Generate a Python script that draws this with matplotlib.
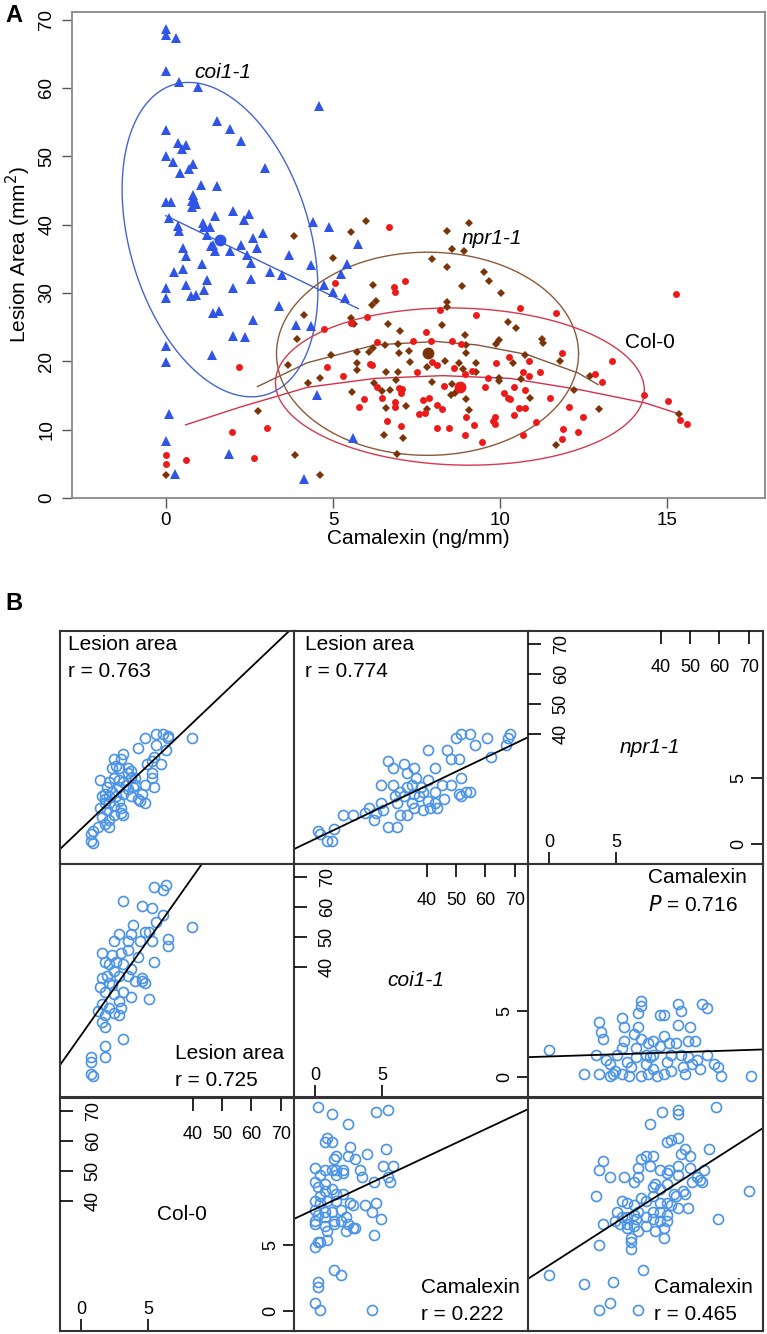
import numpy as np
import matplotlib.pyplot as plt
from matplotlib.transforms import blended_transform_factory

plt.rcParams['font.family'] = ['Liberation Sans', 'DejaVu Sans']

# ---------------- Panel A: camalexin (ng/mm) vs lesion area (mm2) ----------------
coi_x = [0.0, 0.0, 0.29, 0.0, 0.39, 0.95, 4.58, 0.0, 1.52, 1.92, 2.25, 0.35, 0.59, 0.49, 0.0,
         0.21, 0.82, 0.69, 0.42, 2.98, 1.06, 1.53, 0.82, 0.85, 0.77, 0.89, 0.79, 0.0, 0.14, 0.10,
         0.37, 0.39, 1.10, 1.15, 1.32, 1.48, 2.01, 2.33, 2.49, 1.22, 2.61, 2.90, 2.24, 1.34, 1.42,
         1.48, 1.92, 2.42, 2.72, 0.50, 0.59, 2.54, 1.09, 3.68, 0.51, 0.25, 3.11, 3.48, 2.54, 1.22,
         0.59, 0.74, 0.90, 1.15, 0.0, 0.0, 2.0, 4.33, 4.41, 4.88, 5.76, 5.43, 5.23, 4.74, 5.01,
         5.36, 3.38, 1.42, 1.59, 2.61, 3.88, 4.34, 2.37, 4.52, 5.59, 4.14, 2.02, 0.0, 0.0, 1.37,
         0.10, 0.0, 1.88, 0.26]
coi_y = [68.6, 67.8, 67.3, 62.4, 60.9, 60.2, 57.4, 53.9, 55.1, 54.0, 52.2, 51.9, 51.7, 51.1, 50.1,
         49.2, 48.9, 48.2, 47.6, 48.3, 45.8, 45.6, 44.4, 43.8, 43.5, 43.0, 42.6, 43.3, 43.3, 40.9,
         39.8, 39.0, 40.3, 39.6, 39.6, 41.3, 42.0, 40.6, 41.5, 38.5, 38.0, 38.8, 37.0, 36.8, 37.0,
         36.1, 36.2, 35.6, 36.6, 36.6, 35.4, 34.4, 34.3, 35.6, 33.5, 33.0, 33.0, 32.6, 32.1, 31.9,
         31.1, 29.6, 29.7, 30.4, 30.7, 29.3, 30.7, 34.1, 40.4, 39.6, 37.2, 34.3, 32.7, 31.2, 30.2,
         29.2, 28.1, 27.0, 27.3, 26.1, 25.3, 25.1, 23.6, 15.0, 8.8, 2.8, 23.7, 22.2, 19.9, 20.9,
         12.3, 8.4, 6.5, 3.5]

col_x = [5.06, 6.03, 5.53, 4.72, 6.10, 4.82, 5.29, 2.19, 5.94, 5.78, 1.98, 3.02, 0.0, 0.0, 0.6,
         2.63, 6.68, 7.17, 6.82, 6.85, 15.26, 8.21, 9.28, 10.61, 11.67, 7.78, 6.33, 7.40, 7.93,
         8.57, 8.84, 11.84, 13.34, 10.28, 10.88, 9.88, 7.96, 8.10, 6.16, 7.53, 8.62, 8.94, 9.17,
         9.65, 10.69, 10.88, 11.20, 10.41, 12.84, 13.06, 14.32, 15.03, 6.97, 7.07, 7.04, 6.31,
         8.32, 9.55, 10.13, 10.24, 10.31, 10.76, 11.50, 6.48, 6.87, 6.87, 7.68, 7.88, 8.11, 8.26,
         7.57, 7.75, 8.99, 9.85, 9.78, 9.85, 10.43, 10.56, 10.76, 12.06, 12.47, 6.62, 7.04, 8.12,
         8.46, 9.22, 8.94, 9.46, 11.08, 10.68, 11.87, 11.84, 12.33, 15.39, 15.59]
col_y = [31.5, 26.5, 25.6, 24.7, 19.6, 19.2, 17.9, 19.1, 14.5, 13.3, 9.7, 10.2, 6.3, 5.0, 5.5,
         5.8, 39.7, 31.8, 30.9, 30.1, 29.9, 27.5, 26.7, 27.8, 27.0, 24.3, 22.8, 23.0, 22.9,
         23.0, 22.5, 21.2, 20.1, 20.6, 20.1, 19.8, 19.9, 19.5, 19.5, 18.4, 19.0, 18.1, 18.6,
         17.5, 18.4, 17.8, 18.4, 16.3, 18.2, 16.9, 15.1, 14.2, 16.1, 15.9, 15.3, 16.3,
         16.4, 16.3, 15.3, 14.7, 14.5, 15.8, 14.6, 14.7, 14.1, 13.3, 14.4, 14.7, 13.6, 13.0,
         12.3, 12.4, 11.9, 11.9, 11.2, 10.8, 12.2, 13.2, 13.2, 13.3, 11.9, 11.3, 10.5, 10.2,
         10.2, 10.7, 9.2, 8.2, 11.1, 9.2, 10.1, 8.6, 9.7, 11.4, 10.8]

npr_x = [3.83, 5.01, 5.54, 5.98, 6.21, 6.28, 6.18, 4.14, 5.54, 9.06, 8.40, 8.56, 8.91, 7.95, 8.42,
         9.53, 9.68, 8.85, 10.03, 8.40, 8.40, 5.63, 6.65, 8.25, 10.24, 10.49, 7.01, 8.94, 9.98,
         9.87, 11.25, 11.29, 3.92, 6.09, 6.19, 5.71, 6.56, 6.94, 7.29, 6.97, 4.93, 3.65, 5.72,
         5.71, 7.30, 6.94, 6.60, 7.81, 8.34, 8.77, 9.27, 8.89, 9.27, 8.97, 8.99, 9.97, 9.97,
         10.64, 10.38, 10.76, 11.78, 6.89, 6.24, 7.95, 8.57, 8.66, 8.54, 6.70, 6.46, 5.57, 8.97,
         10.91, 12.20, 12.70, 12.97, 15.37, 6.59, 7.18, 7.82, 9.06, 4.61, 4.25, 2.75, 6.54, 7.09,
         6.92, 11.67, 3.85, 4.60, 0.0]
npr_y = [38.3, 35.1, 38.9, 40.5, 31.2, 28.8, 28.2, 26.7, 26.3, 40.2, 39.0, 36.5, 36.2, 35.0, 33.8,
         33.0, 31.8, 31.0, 30.0, 28.7, 27.9, 25.5, 25.5, 25.3, 25.8, 24.8, 24.4, 23.8, 23.1,
         22.5, 23.2, 22.7, 23.2, 21.3, 21.9, 21.3, 22.4, 22.5, 21.5, 21.2, 20.9, 19.4, 19.7,
         18.7, 19.9, 18.5, 18.4, 19.1, 20.0, 19.8, 19.7, 18.8, 18.4, 21.2, 22.4, 17.5, 17.1,
         17.4, 19.7, 20.9, 20.0, 17.2, 16.8, 16.9, 16.7, 15.4, 15.0, 15.8, 15.7, 15.5, 14.5,
         14.6, 15.8, 17.9, 13.0, 12.3, 13.1, 13.5, 13.0, 12.9, 17.6, 16.8, 12.7, 9.2, 8.8,
         6.4, 7.7, 6.3, 3.3, 3.4]

# group means
mean_x = {'coi': 1.62, 'npr': 7.83, 'col': 8.81}
mean_y = {'coi': 37.8, 'npr': 21.2, 'col': 16.3}

# fitted lines
coi_fit_x = [0.0, 5.76]
coi_fit_y = [41.3, 27.7]
col_lo_x = [0.59, 2.22, 4.24, 6.26, 8.28, 10.3, 12.33, 14.35, 15.36]
col_lo_y = [10.7, 13.3, 16.2, 17.5, 17.9, 17.5, 15.9, 13.9, 12.3]
npr_lo_x = [2.74, 4.24, 6.26, 8.08, 9.3, 10.8, 12.33, 12.93]
npr_lo_y = [16.3, 19.8, 22.4, 22.9, 22.4, 21.0, 18.3, 16.6]

# ellipses: centre x, centre y, half width, half height, correlation-like shape term
ell = {'coi': (1.62, 37.8, 2.93, 23.0, -0.32),
       'npr': (7.83, 21.1, 4.52, 14.86, 0.0),
       'col': (8.80, 16.3, 5.52, 11.5, -0.05)}

blue = '#2E55E6'
red = '#EE1A1A'
brown = '#7A3408'

fig = plt.figure(figsize=(7.67, 13.34), dpi=100)
W, H = 767.0, 1334.0

axA = fig.add_axes([72 / W, 1 - 498 / H, (765 - 72) / W, (498 - 12) / H])
axA.plot(coi_x, coi_y, '^', color=blue, ms=6.5, mew=0, zorder=3)
axA.plot(npr_x, npr_y, 'D', color=brown, ms=3.6, mew=0, zorder=3)
axA.plot(col_x, col_y, 'o', color=red, ms=5, mew=0, zorder=3)
axA.plot(mean_x['coi'], mean_y['coi'], 'o', color=blue, ms=8.5, mew=0, zorder=4)
axA.plot(mean_x['npr'], mean_y['npr'], 'o', color=brown, ms=8.5, mew=0, zorder=4)
axA.plot(mean_x['col'], mean_y['col'], 'o', color=red, ms=8.5, mew=0, zorder=4)

axA.plot(coi_fit_x, coi_fit_y, color='#3F5FD8', lw=1)
axA.plot(col_lo_x, col_lo_y, color='#D5304A', lw=1)
axA.plot(npr_lo_x, npr_lo_y, color='#84563A', lw=1)

t = np.linspace(0, 2 * np.pi, 300)
ell_col = {'coi': '#4465D0', 'npr': '#8C5A3A', 'col': '#D33A4E'}
for k, (cx, cy, a, b, c) in ell.items():
    d = np.arccos(c)
    axA.plot(cx + a * np.cos(t), cy + b * np.cos(t - d), color=ell_col[k], lw=1)

axA.text(1.7, 62.3, 'coi1-1', style='italic', fontsize=15, ha='center', va='center')
axA.text(9.75, 37.9, 'npr1-1', style='italic', fontsize=15, ha='center', va='center')
axA.text(14.48, 22.8, 'Col-0', fontsize=15, ha='center', va='center')

axA.set_xlim(-2.81, 17.93)
axA.set_ylim(0.15, 71.1)
axA.set_xticks([0, 5, 10, 15])
axA.set_yticks(range(0, 80, 10))
axA.set_yticklabels([str(v) for v in range(0, 80, 10)], rotation=90, va='center')
axA.tick_params(axis='both', labelsize=13.5, length=7, width=1, color='#555555')
axA.tick_params(axis='x', pad=3)
axA.tick_params(axis='y', pad=5)
for s in axA.spines.values():
    s.set_color('#888888')
    s.set_linewidth(1.3)

fig.text(418 / W, 1 - 539 / H, 'Camalexin (ng/mm)', fontsize=15, ha='center', va='center')
fig.text(18 / W, 1 - 255 / H, 'Lesion Area (mm$^2$)', fontsize=15, ha='center', va='center',
         rotation=90)
fig.text(14 / W, 1 - 16 / H, 'A', fontsize=17, fontweight='bold', ha='center', va='center')
fig.text(14 / W, 1 - 604 / H, 'B', fontsize=17, fontweight='bold', ha='center', va='center')

# ---------------- Panel B: pairs panels (values in percent of panel range) ----------------
c00_x = [56, 44, 41, 46, 46, 45, 41, 36, 33, 40, 39, 27, 23, 26, 24, 25, 29, 29, 30, 23, 25, 27,
         21, 17, 39, 40, 36, 32, 31, 29, 22, 20, 19, 18, 24, 27, 30, 35, 36, 33, 25, 21, 19, 20,
         17, 26, 27, 23, 21, 18, 19, 16, 21, 14, 13, 14, 13, 37, 43, 39, 22, 19, 26, 32, 30, 21,
         25, 28, 34, 23]
c00_y = [54, 56, 56, 55, 54, 49, 51, 54, 50, 46, 44, 47, 45, 45, 42, 41, 41, 39, 37, 37, 36, 35,
         35, 36, 37, 33, 34, 34, 33, 32, 31, 33, 30, 29, 29, 30, 29, 30, 26, 28, 27, 26, 26, 23,
         24, 22, 21, 21, 19, 20, 17, 16, 16, 14, 13, 9, 10, 43, 43, 39, 41, 28, 24, 37, 40, 29,
         33, 34, 27, 25]

c01_x = [10, 11, 14, 16, 17, 21, 25, 30, 32, 34, 37, 35, 37, 42, 40, 42, 47, 48, 51, 45, 43, 47,
         50, 53, 55, 57, 60, 57, 65, 69, 71, 75, 77, 82, 84, 92, 91, 90, 67, 70, 71, 75, 70, 67,
         63, 61, 58, 55, 51, 48, 45, 44, 40, 38, 52, 54, 60, 48, 50, 64, 71, 73, 44, 57, 60, 51]
c01_y = [14, 13, 10, 10, 15, 21, 21, 22, 24, 19, 26, 22, 34, 34, 44, 41, 43, 39, 41, 31, 29, 29,
         26, 29, 31, 36, 41, 49, 49, 54, 56, 56, 51, 54, 46, 56, 54, 51, 45, 45, 37, 31, 30, 34,
         34, 24, 24, 23, 24, 21, 21, 16, 16, 23, 37, 33, 31, 33, 34, 28, 29, 31, 26, 27, 26, 30]

c10_x = [40, 45, 44, 27, 35, 39, 44, 41, 31, 56, 25, 30, 36, 38, 23, 29, 34, 39, 46, 46, 18, 22,
         26, 29, 33, 40, 19, 21, 24, 27, 30, 23, 20, 25, 29, 35, 36, 18, 21, 17, 19, 23, 27, 30,
         38, 25, 18, 21, 16, 19, 23, 26, 25, 18, 19, 27, 19, 19, 13, 13, 13, 14, 22, 32, 35]
c10_y = [90, 91, 89, 84, 82, 81, 78, 75, 74, 73, 70, 70, 71, 71, 67, 67, 67, 67, 68, 65, 62, 61,
         62, 63, 60, 58, 58, 57, 58, 57, 55, 54, 52, 52, 52, 50, 49, 51, 49, 47, 45, 44, 45, 43,
         42, 41, 40, 38, 37, 35, 36, 38, 35, 32, 30, 25, 22, 17, 17, 15, 10, 9, 48, 50, 51]

c12_x = [9, 24, 29, 33, 30, 31, 32, 35, 37, 40, 41, 41, 40, 42, 40, 43, 45, 44, 46, 47, 48, 48,
         47, 50, 50, 51, 52, 53, 55, 56, 58, 56, 58, 59, 60, 61, 63, 64, 65, 64, 65, 66, 67, 69,
         68, 70, 71, 72, 73, 74, 76, 76, 79, 81, 82, 95, 30, 38, 35, 48, 51, 58, 36, 46, 53, 61,
         68, 48, 53]
c12_y = [20, 10, 18, 16, 32, 28, 25, 9, 11, 34, 30, 24, 21, 15, 10, 9, 27, 13, 21, 30, 41, 39,
         36, 18, 14, 23, 17, 12, 9, 35, 35, 22, 26, 15, 23, 11, 23, 40, 37, 31, 18, 13, 10, 30,
         24, 14, 24, 16, 12, 40, 38, 18, 14, 13, 9, 9, 10, 18, 14, 9, 10, 10, 10, 17, 18, 18,
         17, 25, 24]

c21_x = [10, 16, 23, 35, 40, 14, 13, 16, 24, 23, 18, 17, 26, 31, 39, 38, 42, 9, 11, 13, 16, 18,
         18, 21, 21, 28, 29, 34, 40, 41, 9, 10, 13, 13, 16, 18, 21, 11, 9, 11, 14, 18, 24, 25,
         30, 35, 33, 37, 9, 10, 13, 16, 17, 20, 22, 23, 25, 26, 9, 9, 13, 14, 17, 22, 34, 10,
         11, 9, 14, 17, 20, 10, 10, 9, 11, 33, 13, 20]
c21_y = [96, 93, 89, 94, 95, 83, 81, 81, 79, 75, 75, 74, 74, 76, 78, 71, 71, 70, 67, 69, 69, 69,
         67, 69, 68, 69, 66, 64, 66, 64, 64, 62, 63, 60, 61, 59, 59, 58, 56, 55, 56, 56, 55, 54,
         54, 55, 51, 48, 52, 50, 51, 51, 47, 47, 49, 46, 44, 44, 47, 46, 45, 43, 46, 43, 41, 38,
         38, 36, 39, 26, 24, 21, 19, 12, 9, 9, 49, 52]

c22_x = [9, 24, 30, 35, 36, 47, 49, 30, 29, 32, 30, 35, 41, 45, 47, 47, 48, 50, 53, 52, 52, 57,
         64, 64, 80, 59, 61, 64, 65, 67, 69, 77, 56, 59, 60, 64, 64, 69, 72, 73, 74, 75, 53, 54,
         56, 59, 62, 66, 67, 94, 81, 40, 42, 45, 48, 50, 53, 56, 59, 61, 64, 68, 38, 40, 42, 45,
         47, 50, 53, 56, 59, 53, 56, 59, 32, 37, 39, 42, 45, 47, 44, 44, 44, 54, 58, 58, 50, 46,
         42, 63, 70]
c22_y = [24, 20, 9, 12, 21, 9, 26, 37, 58, 73, 69, 66, 66, 64, 66, 70, 74, 75, 75, 71, 89, 94,
         95, 93, 96, 81, 82, 83, 76, 78, 75, 78, 69, 68, 69, 67, 71, 70, 66, 65, 64, 69, 62, 63,
         61, 63, 59, 60, 59, 60, 48, 56, 55, 54, 57, 56, 58, 55, 55, 54, 53, 53, 51, 49, 49, 50,
         51, 49, 51, 51, 50, 48, 47, 47, 46, 47, 46, 46, 45, 43, 40, 38, 35, 43, 44, 40, 45, 48,
         44, 58, 64]

# regression lines: intercept, slope (percent units)
fits = {(0, 0): (6.4, 0.96), (0, 1): (6.4, 0.482), (1, 0): (13.7, 1.43),
        (1, 2): (17.1, 0.033), (2, 1): (48.1, 0.473), (2, 2): (22.4, 0.647)}
cells = {(0, 0): (c00_x, c00_y), (0, 1): (c01_x, c01_y), (1, 0): (c10_x, c10_y),
         (1, 2): (c12_x, c12_y), (2, 1): (c21_x, c21_y), (2, 2): (c22_x, c22_y)}
notes = {(0, 0): ('Lesion area', 'r = 0.763', 'top'), (0, 1): ('Lesion area', 'r = 0.774', 'top'),
         (1, 0): ('Lesion area', 'r = 0.725', 'bottom'),
         (1, 2): ('Camalexin', '$P$ = 0.716', 'top'),
         (2, 1): ('Camalexin', 'r = 0.222', 'bottom'), (2, 2): ('Camalexin', 'r = 0.465', 'bottom')}
note_x = {(0, 0): 0.035, (0, 1): 0.045, (1, 0): 0.49, (1, 2): 0.51, (2, 1): 0.54, (2, 2): 0.535}
diag_names = {(0, 2): ('npr1-1', 'italic'), (1, 1): ('coi1-1', 'italic'), (2, 0): ('Col-0', 'normal')}

# diagonal panel scales
cam_lim = (-1.57, 15.9)
cam_lim_y = (-1.52, 16.1)
les_lim = (-5.05, 74.8)
les_lim_y = (-3.3, 74.3)
cam_ticks = [0, 5]
les_ticks = [40, 50, 60, 70]

col_left = [60, 294, 528]
row_top = [631, 864, 1098]
cw, ch = 235, 233
ring = '#4A93E6'
frame = '#333333'

for r in range(3):
    for c in range(3):
        rect = [col_left[c] / W, 1 - (row_top[r] + ch) / H, cw / W, ch / H]
        ax = fig.add_axes(rect)
        for s in ax.spines.values():
            s.set_color(frame)
            s.set_linewidth(1.5)
        if (r, c) in cells:
            xs, ys = cells[(r, c)]
            ax.plot(xs, ys, 'o', mfc='none', mec=ring, ms=7.2, mew=1.2)
            b0, m = fits[(r, c)]
            ax.axline((0, b0), slope=m, color='black', lw=1.3)
            ax.set_xlim(0, 100)
            ax.set_ylim(0, 100)
            ax.set_xticks([])
            ax.set_yticks([])
            l1, l2, pos = notes[(r, c)]
            if pos == 'top':
                y1, y2 = 0.94, 0.825
            else:
                y1, y2 = 0.185, 0.07
            ax.text(note_x[(r, c)], y1, l1, transform=ax.transAxes, fontsize=15,
                    ha='left', va='center')
            ax.text(note_x[(r, c)], y2, l2, transform=ax.transAxes, fontsize=15,
                    ha='left', va='center')
        else:
            name, sty = diag_names[(r, c)]
            ax.set_xlim(*cam_lim)
            ax.set_ylim(*cam_lim_y)
            ax.set_xticks(cam_ticks)
            ax.set_yticks(cam_ticks)
            ax.yaxis.tick_right()
            ax.tick_params(direction='in', length=9, width=1.2, labelbottom=False,
                           labelright=False, color='black')
            tb = blended_transform_factory(ax.transData, ax.transAxes)
            for v in cam_ticks:
                ax.text(v, 0.093, str(v), transform=tb, fontsize=13, ha='center', va='center')
            tr = blended_transform_factory(ax.transAxes, ax.transData)
            for v in cam_ticks:
                ax.text(0.897, v, str(v), transform=tr, fontsize=13, ha='center', va='center',
                        rotation=90)
            ax.text(0.52, 0.5, name, style=sty, transform=ax.transAxes, fontsize=15,
                    ha='center', va='center')

            ax2 = fig.add_axes(rect, frameon=False)
            ax2.set_xlim(*les_lim)
            ax2.set_ylim(*les_lim_y)
            ax2.set_xticks(les_ticks)
            ax2.set_yticks(les_ticks)
            ax2.xaxis.tick_top()
            ax2.tick_params(direction='in', length=9, width=1.2, labeltop=False,
                            labelleft=False, color='black')
            tt = blended_transform_factory(ax2.transData, ax2.transAxes)
            for v in les_ticks:
                ax2.text(v, 0.845, str(v), transform=tt, fontsize=13, ha='center', va='center')
            tl = blended_transform_factory(ax2.transAxes, ax2.transData)
            for v in les_ticks:
                ax2.text(0.141, v, str(v), transform=tl, fontsize=13, ha='center', va='center',
                         rotation=90)

fig.savefig('out.png', dpi=100)
